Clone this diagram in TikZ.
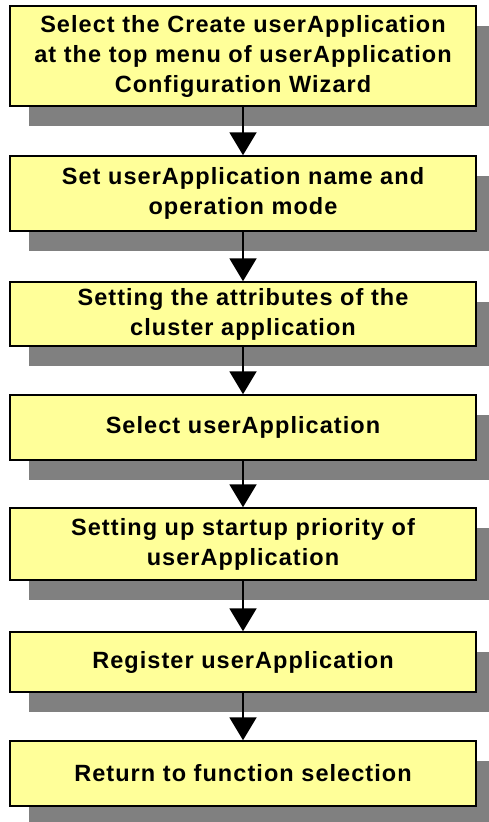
\documentclass[tikz,border=0pt]{standalone}
\usepackage{fontspec}
\setmainfont{Liberation Sans}[LetterSpace=4.5]
\usetikzlibrary{arrows.meta,shadows}
\definecolor{boxfill}{HTML}{FFFF99}
\definecolor{shadowgray}{HTML}{808080}
\begin{document}
\begin{tikzpicture}[x=1pt,y=-1pt,
  stepbox/.style={draw=black, line width=1.5pt, fill=boxfill,
    minimum width=466pt, inner sep=0pt, align=center,
    font=\fontsize{23.5pt}{30pt}\selectfont\bfseries,
    drop shadow={shadow xshift=19pt, shadow yshift=-20pt, fill=shadowgray, opacity=1}},
  flow/.style={line width=2pt, -{Triangle[width=27pt,length=23pt]}}]
\useasboundingbox (0,0) rectangle (488,822);
\node[stepbox, minimum height=100pt] (b1) at (243,56) {Select the Create userApplication\\at the top menu of userApplication\\Configuration Wizard};
\node[stepbox, minimum height=75pt] (b2) at (243,193.5) {Set userApplication name and\\operation mode};
\node[stepbox, minimum height=64pt] (b3) at (243,314) {Setting the attributes of the\\cluster application};
\node[stepbox, minimum height=65pt] (b4) at (243,427.5) {Select userApplication};
\node[stepbox, minimum height=72pt] (b5) at (243,544) {Setting up startup priority of\\userApplication};
\node[stepbox, minimum height=60pt] (b6) at (243,662) {Register userApplication};
\node[stepbox, minimum height=65pt] (b7) at (243,773.5) {Return to function selection};
\draw[flow] (b1) -- (b2);
\draw[flow] (b2) -- (b3);
\draw[flow] (b3) -- (b4);
\draw[flow] (b4) -- (b5);
\draw[flow] (b5) -- (b6);
\draw[flow] (b6) -- (b7);
\end{tikzpicture}
\end{document}
